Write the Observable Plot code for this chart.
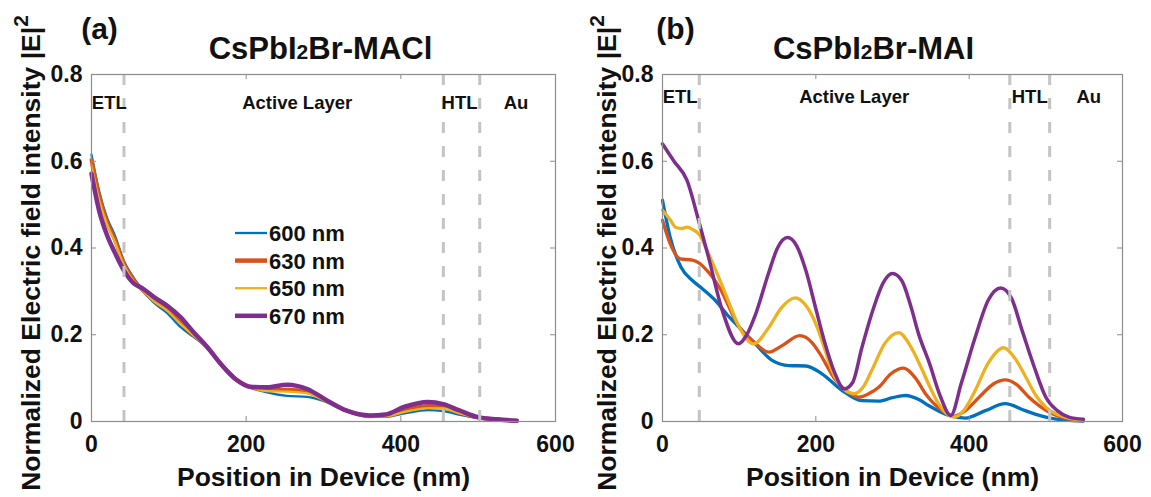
<!DOCTYPE html>
<html><head><meta charset="utf-8">
<script src="https://cdn.jsdelivr.net/npm/d3@7"></script>
<script src="https://cdn.jsdelivr.net/npm/@observablehq/plot@0.6"></script>
<style>
html,body{margin:0;padding:0;background:#fff;}
#fig{position:relative;width:1151px;height:497px;overflow:hidden;background:#fff;}
.panel{position:absolute;top:0;width:575px;height:497px;}
.panel svg{overflow:visible;}
</style></head><body>
<div id="fig"><div class="panel" id="pa" style="left:0"></div><div class="panel" id="pb" style="left:576px"></div></div>
<script>
// ---------- data ----------
const wavelengths = ["600 nm", "630 nm", "650 nm", "670 nm"];
const colors = ["#0072BD", "#D95319", "#EDB120", "#7E2F8E"];
const xTicks = [0, 200, 400, 600];
const yTicks = [0, 0.2, 0.4, 0.6, 0.8];
const regionNames = ["ETL", "Active Layer", "HTL", "Au"];
const regionPosA = [23, 266, 476, 549];
const regionPosB = [23, 250, 479, 556];
const dividersA = [42, 455, 502];
const dividersB = [48, 453, 505];

// Panel (a): CsPbI2Br-MACl
const posA = [0, 10, 20, 30, 42, 55, 65, 80, 98, 115, 132, 150, 167, 188, 205, 227, 253, 279, 305, 330, 360, 380, 405, 435, 455, 475, 500, 525, 550];
const a600 = [0.615, 0.53, 0.47, 0.43, 0.37, 0.33, 0.305, 0.275, 0.25, 0.218, 0.195, 0.17, 0.133, 0.096, 0.08, 0.067, 0.059, 0.057, 0.044, 0.025, 0.011, 0.011, 0.019, 0.026, 0.024, 0.016, 0.008, 0.003, 0.001];
const a630 = [0.603, 0.52, 0.46, 0.42, 0.363, 0.325, 0.305, 0.28, 0.258, 0.228, 0.2, 0.17, 0.133, 0.096, 0.08, 0.072, 0.073, 0.068, 0.046, 0.025, 0.012, 0.013, 0.025, 0.036, 0.033, 0.021, 0.009, 0.004, 0.0015];
const a650 = [0.59, 0.51, 0.455, 0.415, 0.36, 0.322, 0.305, 0.278, 0.255, 0.225, 0.198, 0.17, 0.133, 0.096, 0.08, 0.07, 0.069, 0.065, 0.045, 0.025, 0.012, 0.012, 0.022, 0.031, 0.03, 0.019, 0.009, 0.003, 0.001];
const a670 = [0.571, 0.485, 0.43, 0.39, 0.348, 0.318, 0.308, 0.288, 0.267, 0.241, 0.206, 0.171, 0.133, 0.095, 0.08, 0.079, 0.085, 0.075, 0.048, 0.025, 0.014, 0.016, 0.034, 0.045, 0.04, 0.026, 0.01, 0.005, 0.0015];

// Panel (b): CsPbI2Br-MAI
const b600pos = [0, 10, 24, 39, 52, 69, 87, 104, 121, 143, 165, 187, 208, 234, 260, 282, 300, 317, 335, 347, 374, 395, 421, 447, 473, 500, 526, 549];
const b600 = [0.51, 0.425, 0.356, 0.325, 0.306, 0.279, 0.241, 0.21, 0.179, 0.141, 0.129, 0.128, 0.11, 0.072, 0.048, 0.047, 0.055, 0.06, 0.05, 0.037, 0.014, 0.008, 0.025, 0.041, 0.025, 0.01, 0.003, 0.001];
const b630pos = [0, 10, 23, 39, 48, 56, 74, 100, 117, 139, 156, 179, 195, 204, 226, 239, 256, 270, 282, 298, 314, 330, 343, 365, 380, 395, 413, 432, 447, 462, 478, 504, 530, 549];
const b630 = [0.464, 0.41, 0.375, 0.372, 0.365, 0.352, 0.31, 0.218, 0.187, 0.16, 0.175, 0.198, 0.182, 0.16, 0.095, 0.072, 0.056, 0.065, 0.079, 0.11, 0.123, 0.1, 0.064, 0.025, 0.012, 0.025, 0.056, 0.087, 0.096, 0.085, 0.056, 0.022, 0.006, 0.002];
const b650pos = [0, 10, 17, 25, 32, 40, 47, 62, 82, 100, 119, 138, 155, 173, 188, 200, 212, 221, 238, 250, 262, 273, 290, 308, 323, 339, 350, 360, 380, 395, 408, 425, 445, 460, 474, 487, 500, 525, 549];
const b650 = [0.487, 0.465, 0.448, 0.445, 0.448, 0.442, 0.433, 0.379, 0.295, 0.218, 0.179, 0.215, 0.262, 0.285, 0.265, 0.225, 0.165, 0.118, 0.072, 0.064, 0.08, 0.118, 0.18, 0.205, 0.175, 0.118, 0.075, 0.041, 0.01, 0.03, 0.072, 0.135, 0.17, 0.145, 0.102, 0.06, 0.033, 0.01, 0.003];
const b670pos = [0, 15, 32, 47, 60, 78, 99, 110, 121, 138, 150, 163, 175, 187, 200, 212, 224, 237, 248, 260, 275, 288, 300, 312, 324, 334, 348, 362, 376, 390, 408, 425, 441, 455, 469, 485, 500, 515, 530, 549];
const b670 = [0.64, 0.6, 0.556, 0.464, 0.379, 0.256, 0.179, 0.2, 0.245, 0.34, 0.4, 0.424, 0.405, 0.348, 0.26, 0.18, 0.115, 0.075, 0.09, 0.17, 0.26, 0.32, 0.341, 0.325, 0.265, 0.202, 0.135, 0.06, 0.014, 0.09, 0.195, 0.28, 0.308, 0.285, 0.21, 0.125, 0.056, 0.025, 0.01, 0.005];

const FONT = '"Liberation Sans", Arial, Helvetica, sans-serif';
const AXIS = "#8c8c8c";
const TOP = 74, BOTTOM = 76, W = 575, H = 497;
const YLABEL = "Normalized Electric field intensity |E|";

function makePanel(o) {
  const fh = H - TOP - BOTTOM;
  const fw = W - o.marginLeft - o.marginRight;
  const lines = o.series.map((s, i) =>
    Plot.line(s.pos.map((p, j) => ({pos: p, val: s.val[j], name: wavelengths[i]})), {
      x: "pos", y: "val", stroke: "name", strokeWidth: o.strokeWidths[i], curve: "monotone-x", strokeLinecap: "round", strokeLinejoin: "round"
    })
  );
  const regions = regionNames.map((n, i) => ({name: n, pos: o.regionPos[i], val: o.regionY}));
  const plot = Plot.plot({
    width: W, height: H,
    marginLeft: o.marginLeft, marginRight: o.marginRight, marginTop: TOP, marginBottom: BOTTOM,
    style: {fontFamily: FONT, fontWeight: "bold", color: "#111", background: "transparent", overflow: "visible"},
    x: {domain: [0, 600]},
    y: {domain: [0, 0.8]},
    color: {domain: wavelengths, range: colors},
    marks: [
      ...lines,
      Plot.ruleX(o.dividers, {x: d => d, y1: () => 0, y2: () => 0.8, stroke: "#c4c4c4", strokeWidth: 3, strokeDasharray: "11,13"}),
      Plot.frame({stroke: AXIS, strokeWidth: 1.2}),
      Plot.tickX(xTicks, {x: d => d, insetTop: fh - 5, stroke: AXIS}),
      Plot.tickX(xTicks, {x: d => d, insetBottom: fh - 5, stroke: AXIS}),
      Plot.tickY(yTicks, {y: d => d, insetRight: fw - 5, stroke: AXIS}),
      Plot.tickY(yTicks, {y: d => d, insetLeft: fw - 5, stroke: AXIS}),
      Plot.axisX({ticks: xTicks, tickSize: 0, tickPadding: 14, fontSize: 23, fontWeight: "bold", label: null, tickFormat: d => String(d)}),
      Plot.axisY({ticks: yTicks, tickSize: 0, tickPadding: 9, fontSize: 23, fontWeight: "bold", label: null, tickFormat: d => d === 0 ? "0" : d.toFixed(1)}),
      Plot.text(regions, {x: "pos", y: "val", text: "name", fontSize: 18.5, fontWeight: "bold", textAnchor: "middle", lineAnchor: "middle"}),
      Plot.text([o.title], {frameAnchor: "top", dx: o.titleDx, dy: -25, fontSize: 31, fontWeight: "bold", textAnchor: "middle", lineAnchor: "middle"}),
      Plot.text([o.letter], {frameAnchor: "top-left", dx: o.letterDx, dy: -45, fontSize: 30, fontWeight: "bold", textAnchor: "middle", lineAnchor: "middle"}),
      Plot.text(["Position in Device (nm)"], {frameAnchor: "bottom", dy: 56, fontSize: 26.5, fontWeight: "bold", textAnchor: "middle", lineAnchor: "middle"}),
      Plot.text([YLABEL], {frameAnchor: "left", rotate: -90, dx: o.yLabelDx, dy: o.yLabelDy, fontSize: 26.5, fontWeight: "bold", textAnchor: "middle", lineAnchor: "middle"})
    ]
  });
  const svg = d3.select(plot);
  // small "2" in the compound title, superscript 2 in the y label
  svg.selectAll("text").each(function() {
    const t = this.textContent;
    const m = t.match(/^(CsPbI)(2)(Br-.*)$/);
    if (m) {
      const el = d3.select(this);
      el.text(null);
      el.append("tspan").text(m[1]);
      el.append("tspan").attr("font-size", "21px").text(m[2]);
      el.append("tspan").text(m[3]);
    } else if (t === YLABEL) {
      d3.select(this).append("tspan").attr("font-size", "21px").attr("dy", "-0.55em").text("2");
    }
  });
  return plot;
}

const plotA = makePanel({
  letter: "(a)", letterDx: 8, title: "CsPbI2Br-MACl", titleDx: -3,
  marginLeft: 91, marginRight: 20,
  series: [{pos: posA, val: a600}, {pos: posA, val: a630}, {pos: posA, val: a650}, {pos: posA, val: a670}],
  strokeWidths: [2.3, 4, 2.3, 4.5],
  dividers: dividersA, regionPos: regionPosA, regionY: 0.735, yLabelDx: -60, yLabelDy: 5
});
const plotB = makePanel({
  letter: "(b)", letterDx: 13, title: "CsPbI2Br-MAI", titleDx: -19,
  marginLeft: 86, marginRight: 29,
  series: [{pos: b600pos, val: b600}, {pos: b630pos, val: b630}, {pos: b650pos, val: b650}, {pos: b670pos, val: b670}],
  strokeWidths: [3.3, 3.3, 3.3, 3.5],
  dividers: dividersB, regionPos: regionPosB, regionY: 0.748, yLabelDx: -55, yLabelDy: 5
});
document.getElementById("pa").appendChild(plotA);
document.getElementById("pb").appendChild(plotB);

// legend inside panel (a)
const legendWidths = [2.3, 4.5, 2.3, 4.5];
const lg = d3.select(plotA).append("g").attr("font-family", FONT).attr("font-weight", "bold").attr("font-size", 22).attr("text-anchor", "start");
wavelengths.forEach((w, i) => {
  const y = 233 + i * 27.6;
  lg.append("line").attr("x1", 235).attr("x2", 267).attr("y1", y).attr("y2", y)
    .attr("stroke", colors[i]).attr("stroke-width", legendWidths[i]);
  lg.append("text").attr("x", 269).attr("y", y).attr("dy", "0.36em").attr("fill", "#111").text(w);
});
</script>
</body></html>
